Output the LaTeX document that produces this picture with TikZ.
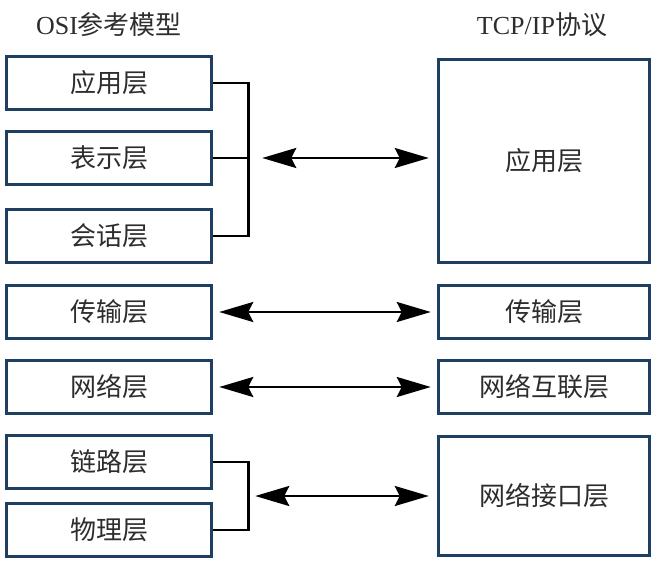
\documentclass[tikz,border=0pt]{standalone}
\usepackage{fontspec}
\newfontfamily\cjk{Noto Sans CJK SC}
\newfontfamily\latser{Liberation Serif}
\usetikzlibrary{arrows.meta,positioning}
\definecolor{boxblue}{RGB}{30,62,98}
\definecolor{txtgray}{RGB}{45,45,45}

\begin{document}
\begin{tikzpicture}[x=1pt,y=-1pt,
    layer/.style={draw=boxblue, line width=3.5pt, fill=white, minimum width=205pt,
        minimum height=53pt, inner sep=0pt, text=txtgray,
        font=\cjk\fontsize{26}{30}\selectfont},
    tcplayer/.style={layer, minimum width=211pt},
    title/.style={text=txtgray, font=\cjk\fontsize{26}{30}\selectfont},
    brk/.style={line width=2.5pt, black},
    biarrow/.style={line width=2.5pt, black,
        {Stealth[length=34pt,width=20pt,inset=5pt]}-{Stealth[length=34pt,width=20pt,inset=5pt]}}]
    \useasboundingbox (0,0) rectangle (655,561);

    % titles
    \node[title] (osi) at (109,25) {{\latser OSI}参考模型};
    \node[title] (tcpip) at (542,25) {{\latser TCP/IP}协议};

    % OSI layers
    \node[layer] (app) at (109,83) {应用层};
    \node[layer] (pres) at (109,158) {表示层};
    \node[layer] (sess) at (109,236) {会话层};
    \node[layer] (trans) at (109,312) {传输层};
    \node[layer] (net) at (109,387) {网络层};
    \node[layer] (link) at (109,462) {链路层};
    \node[layer] (phys) at (109,530) {物理层};

    % TCP/IP layers
    \node[tcplayer, minimum height=203pt] (tapp) at (544,161) {应用层};
    \node[tcplayer] (ttrans) at (544,312) {传输层};
    \node[tcplayer] (tnet) at (544,387) {网络互联层};
    \node[tcplayer, minimum height=119pt] (tif) at (544,496) {网络接口层};

    % brackets
    \draw[brk] (app.east) -- ++(35,0) coordinate (ub) |- (sess.east);
    \draw[brk] (pres.east) -- (pres.east -| ub);
    \draw[brk] (link.east) -- ++(35,0) coordinate (lb) |- (phys.east);

    % arrows
    \draw[biarrow] ([xshift=14pt]pres.east -| ub) -- ([xshift=-8pt]tapp.west |- pres.east);
    \draw[biarrow] ([xshift=6pt]trans.east) -- ([xshift=-6pt]ttrans.west);
    \draw[biarrow] ([xshift=6pt]net.east) -- ([xshift=-6pt]tnet.west);
    \draw[biarrow] ([xshift=7pt]lb |- tif.west) -- ([xshift=-8pt]tif.west);
\end{tikzpicture}
\end{document}
